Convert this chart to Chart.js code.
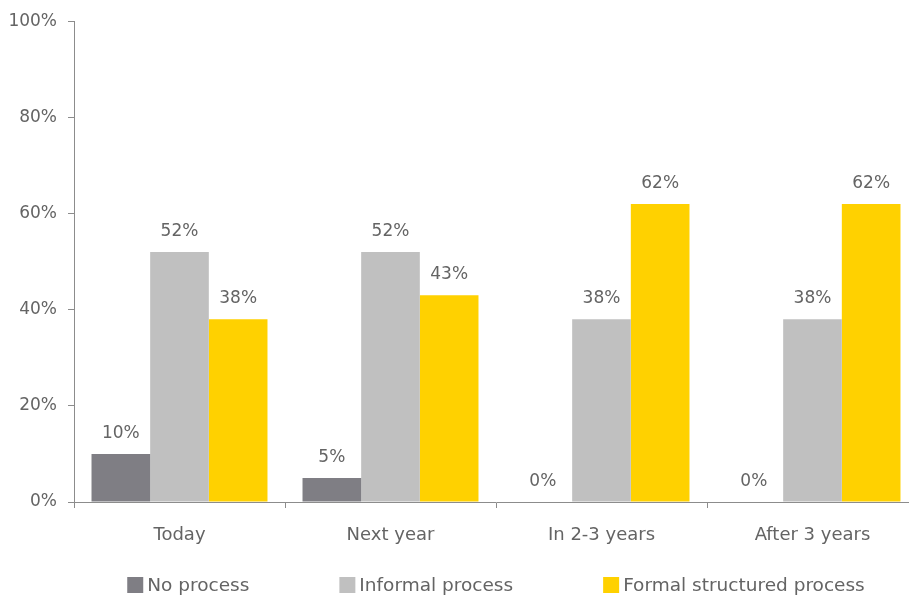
<!DOCTYPE html>
<html>
<head>
<meta charset="utf-8">
<script src="https://cdn.jsdelivr.net/npm/chart.js@4/dist/chart.umd.min.js"></script>
<style>
  html, body { margin: 0; padding: 0; background: #fff; overflow: hidden; }
  #wrap { width: 918px; height: 596px; position: relative; }
</style>
</head>
<body>
<div id="wrap"><canvas id="chart"></canvas></div>
<script>
const categories = ["Today", "Next year", "In 2-3 years", "After 3 years"];
const seriesNames = ["No process", "Informal process", "Formal structured process"];
const noProcess = [10, 5, 0, 0];
const informalProcess = [52, 52, 38, 38];
const formalProcess = [38, 43, 62, 62];
const yTicks = [0, 20, 40, 60, 80, 100];

const colors = ["#7f7e84", "#c0c0c0", "#ffd100"];
const textColor = "#646464";
const axisColor = "#8c8c8c";
const fontFamily = "'DejaVu Sans', sans-serif";

// value labels above each bar
const valueLabels = {
  id: "valueLabels",
  afterDatasetsDraw(chart) {
    const ctx = chart.ctx;
    ctx.save();
    ctx.font = "17px " + fontFamily;
    ctx.fillStyle = textColor;
    ctx.textAlign = "center";
    ctx.textBaseline = "alphabetic";
    chart.data.datasets.forEach((ds, i) => {
      chart.getDatasetMeta(i).data.forEach((bar, j) => {
        ctx.fillText(ds.data[j] + "%", bar.x, bar.y - 16);
      });
    });
    ctx.restore();
  },
};

// legend row under the axis, centred on the plot area
const bottomLegend = {
  id: "bottomLegend",
  afterDraw(chart) {
    const ctx = chart.ctx;
    const area = chart.chartArea;
    const box = 16, gap = 4, spacing = 90, y = 585;
    ctx.save();
    ctx.font = "18.5px " + fontFamily;
    const widths = chart.data.datasets.map((ds) => box + gap + ctx.measureText(ds.label).width);
    const total = widths.reduce((a, b) => a + b, 0) + spacing * (widths.length - 1);
    let x = (area.left + area.right) / 2 - total / 2;
    ctx.textBaseline = "middle";
    ctx.textAlign = "left";
    chart.data.datasets.forEach((ds, i) => {
      ctx.fillStyle = ds.backgroundColor;
      ctx.fillRect(x, y - box / 2, box, box);
      ctx.fillStyle = textColor;
      ctx.fillText(ds.label, x + box + gap, y + 1);
      x += widths[i] + spacing;
    });
    ctx.restore();
  },
};

new Chart(document.getElementById("chart"), {
  type: "bar",
  data: {
    labels: categories,
    datasets: [noProcess, informalProcess, formalProcess].map((values, i) => ({
      label: seriesNames[i],
      data: values,
      backgroundColor: colors[i],
      borderWidth: 0,
      categoryPercentage: 0.834,
      barPercentage: 1.0,
    })),
  },
  options: {
    responsive: true,
    maintainAspectRatio: false,
    animation: false,
    layout: { padding: { top: 19, right: 0, bottom: 0, left: 0 } },
    plugins: {
      legend: { display: false },
      tooltip: { enabled: false },
    },
    scales: {
      x: {
        afterFit: (scale) => { scale.height = 94; },
        border: { display: true, color: axisColor, width: 1 },
        grid: {
          display: true,
          offset: true,
          drawOnChartArea: false,
          drawTicks: true,
          tickLength: 6,
          color: axisColor,
        },
        ticks: {
          color: textColor,
          font: { family: fontFamily, size: 18 },
          padding: 17,
          maxRotation: 0,
        },
      },
      y: {
        min: 0,
        max: 100,
        afterFit: (scale) => { scale.width = 74; },
        afterBuildTicks: (scale) => { scale.ticks = yTicks.map((v) => ({ value: v })); },
        border: { display: true, color: axisColor, width: 1 },
        grid: {
          display: true,
          drawOnChartArea: false,
          drawTicks: true,
          tickLength: 6,
          color: axisColor,
        },
        ticks: {
          color: textColor,
          font: { family: fontFamily, size: 17 },
          padding: 11,
          callback: (v) => v + "%",
        },
      },
    },
  },
  plugins: [valueLabels, bottomLegend],
});
</script>
</body>
</html>
